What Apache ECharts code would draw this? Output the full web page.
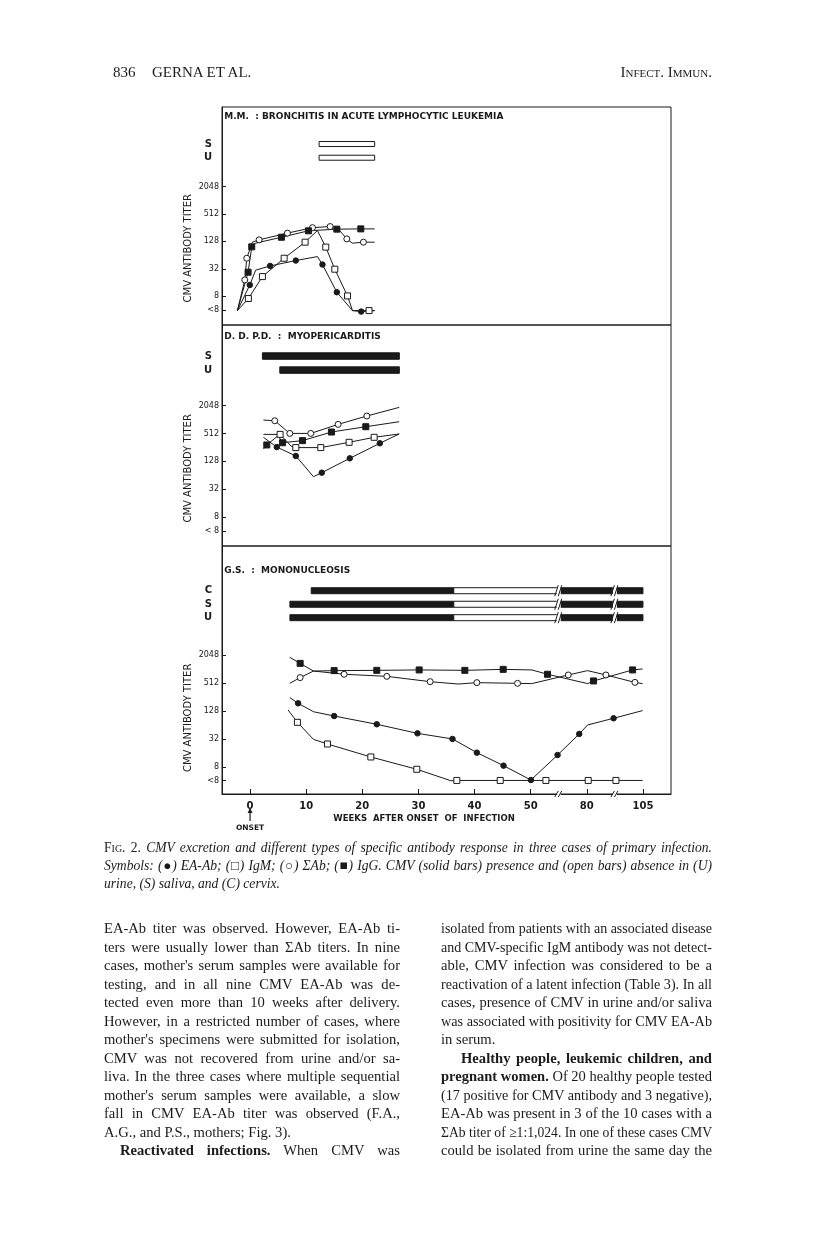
<!DOCTYPE html>
<html><head><meta charset="utf-8">
<script src="https://cdn.jsdelivr.net/npm/echarts@6/dist/echarts.min.js"></script>
<style>
html,body{margin:0;padding:0;background:#fff;}
#chart{position:absolute;left:0;top:0;width:816px;height:1253px;}
.t{position:absolute;font-family:"Liberation Serif","DejaVu Serif",serif;color:#1b1b1b;white-space:nowrap;line-height:18px;transform-origin:0 50%;}
.sc{font-variant:small-caps;}
</style></head><body>
<div id="chart"></div>
<div id="txt"></div>
<script>
// ---------- axis ticks ----------
const yTickValues = [2, 3, 5, 7, 9, 11];           // log2 titre positions
const yTickLabels = ['<8', '8', '32', '128', '512', '2048'];
const yTickLabels2 = ['< 8', '8', '32', '128', '512', '2048'];
const xTickValues = [0, 10, 20, 30, 40, 50, 60, 70]; // axis positions (broken axis)
const xTickLabels = ['0', '10', '20', '30', '40', '50', '80', '105'];
const axisBreaks = [55, 65];

// ---------- panel 1: M.M. ----------  [x, log2 titre, marker?]
const mmSumAb = [[-2.25,1.95,0],[-0.94,4.19,1],[-0.59,5.77,1],[0.42,6.95,0],[1.61,7.11,1],[6.66,7.6,1],[11.12,8.0,1],[14.27,8.08,1],[15.5,8.0,0],[17.24,7.18,1],[18.25,6.87,0],[20.2,6.94,1],[22.2,6.94,0]];
const mmIgG   = [[-2.25,1.95,0],[-0.35,4.75,1],[0.3,6.6,1],[0.8,6.85,0],[5.59,7.3,1],[10.4,7.77,1],[15.46,7.89,1],[19.73,7.91,1],[22.2,7.91,0]];
const mmIgM   = [[-2.25,1.95,0],[-0.3,2.83,1],[2.2,4.43,1],[6.07,5.77,1],[9.81,6.94,1],[12.0,7.79,0],[13.49,6.58,1],[15.1,4.97,1],[17.36,3.02,1],[18.25,1.95,0],[21.2,1.95,1],[22.2,1.95,0]];
const mmEA    = [[-2.25,1.95,0],[-0.05,3.82,1],[1.0,4.9,0],[3.57,5.21,1],[8.15,5.6,1],[12.0,5.89,0],[12.9,5.31,1],[15.46,3.29,1],[18.25,1.95,0],[19.8,1.88,1],[22.2,1.95,0]];
const mmRows  = [['S',14.1],['U',13.1]];
const mmBars  = [[12.3,22.2,14.1,0],[12.3,22.2,13.1,0]];   // [start, end, row, solid]

// ---------- panel 2: D.D.P.D. ----------
const ddSumAb = [[2.38,9.97,0],[4.4,9.92,1],[7.08,9.01,1],[10.82,9.01,1],[15.69,9.66,1],[20.8,10.26,1],[26.57,10.88,0]];
const ddIgM   = [[2.38,8.94,0],[5.35,8.94,1],[7.3,8.1,0],[8.15,7.99,1],[12.6,7.99,1],[17.65,8.37,1],[22.11,8.73,1],[26.57,8.97,0]];
const ddIgG   = [[2.38,7.9,0],[2.98,8.18,1],[5.0,8.85,0],[5.77,8.34,1],[9.34,8.49,1],[14.5,9.11,1],[20.62,9.49,1],[26.57,9.85,0]];
const ddEA    = [[2.38,8.73,0],[4.76,8.03,1],[8.15,7.39,1],[11.3,5.9,0],[12.78,6.19,1],[17.77,7.22,1],[23.12,8.3,1],[26.57,8.97,0]];
const ddRows  = [['S',14.57],['U',13.56]];
const ddBars  = [[2.2,26.6,14.57,1],[5.3,26.6,13.56,1]];

// ---------- panel 3: G.S. ----------
const gsIgG   = [[7.08,10.83,0],[8.92,10.4,1],[11.3,9.85,0],[14.98,9.88,1],[22.58,9.9,1],[30.13,9.93,1],[38.27,9.9,1],[45.1,9.97,1],[50.2,9.93,0],[53.0,9.62,1],[60.14,8.95,0],[61.2,9.14,1],[68.16,9.93,1],[69.94,10.0,0]];
const gsSumAb = [[7.08,8.97,0],[8.92,9.38,1],[11.3,9.85,0],[16.76,9.62,1],[24.37,9.47,1],[32.09,9.09,1],[37.08,8.92,0],[40.41,9.02,1],[47.66,8.97,1],[50.2,8.95,0],[56.69,9.57,1],[60.14,9.88,0],[63.4,9.57,1],[68.57,9.04,1],[69.94,8.95,0]];
const gsEA    = [[7.08,7.95,0],[8.56,7.54,1],[11.3,6.94,0],[14.98,6.63,1],[22.58,6.04,1],[29.83,5.39,1],[36.07,4.99,1],[40.41,4.01,1],[45.16,3.08,1],[50.04,2.05,1],[54.79,3.84,1],[58.65,5.35,1],[60.14,5.99,0],[64.77,6.47,1],[69.94,7.02,0]];
const gsIgM   = [[6.78,7.06,0],[8.44,6.18,1],[11.3,4.96,0],[13.79,4.63,1],[21.52,3.7,1],[29.71,2.82,1],[35.78,2.0,0],[36.84,2.02,1],[44.57,2.02,1],[52.71,2.02,1],[60.25,2.02,1],[65.19,2.02,1],[69.94,2.02,0]];
const gsRows  = [['C',15.6],['S',14.63],['U',13.67]];
const gsBars  = [[10.9,36.3,15.6,1],[36.3,55,15.6,0],[55,70,15.6,1],
                 [7.1,36.3,14.63,1],[36.3,55,14.63,0],[55,70,14.63,1],
                 [7.1,36.3,13.67,1],[36.3,55,13.67,0],[55,70,13.67,1]];

const titles = ['M.M.  : BRONCHITIS IN ACUTE LYMPHOCYTIC LEUKEMIA', 'D. D. P.D.  :  MYOPERICARDITIS', 'G.S.  :  MONONUCLEOSIS'];

// ---------- page text ----------
const header = ['836', 'GERNA ET AL.', 'Infect. Immun.'];
const caption = [
  '<span class="sc" style="font-style:normal">Fig.</span> <span style="font-style:normal">2.</span> CMV excretion and different types of specific antibody response in three cases of primary infection.',
  'Symbols: (<span style="font-style:normal">●</span>) EA-Ab; (<span style="font-style:normal">□</span>) IgM; (<span style="font-style:normal">○</span>) ΣAb; (<span style="font-style:normal">■</span>) IgG. CMV (solid bars) presence and (open bars) absence in (U)',
  'urine, (S) saliva, and (C) cervix.'
];
const leftCol = [
  ['EA-Ab titer was observed. However, EA-Ab ti-',1,0],
  ['ters were usually lower than ΣAb titers. In nine',1,0],
  ['cases, mother\'s serum samples were available for',1,0],
  ['testing, and in all nine CMV EA-Ab was de-',1,0],
  ['tected even more than 10 weeks after delivery.',1,0],
  ['However, in a restricted number of cases, where',1,0],
  ['mother\'s specimens were submitted for isolation,',1,0],
  ['CMV was not recovered from urine and/or sa-',1,0],
  ['liva. In the three cases where multiple sequential',1,0],
  ['mother\'s serum samples were available, a slow',1,0],
  ['fall in CMV EA-Ab titer was observed (F.A.,',1,0],
  ['A.G., and P.S., mothers; Fig. 3).',0,0],
  ['<b>Reactivated infections.</b> When CMV was',1,1]
];
const rightCol = [
  ['isolated from patients with an associated disease',1,0],
  ['and CMV-specific IgM antibody was not detect-',1,0],
  ['able, CMV infection was considered to be a',1,0],
  ['reactivation of a latent infection (Table 3). In all',1,0],
  ['cases, presence of CMV in urine and/or saliva',1,0],
  ['was associated with positivity for CMV EA-Ab',1,0],
  ['in serum.',0,0],
  ['<b>Healthy people, leukemic children, and</b>',1,1],
  ['<b>pregnant women.</b> Of 20 healthy people tested',1,0],
  ['(17 positive for CMV antibody and 3 negative),',1,0],
  ['EA-Ab was present in 3 of the 10 cases with a',1,0],
  ['ΣAb titer of ≥1:1,024. In one of these cases CMV',1,0],
  ['could be isolated from urine the same day the',1,0]
];

// build page text (justified lines are squeezed horizontally if too long)
(function(){
  const box = document.getElementById('txt');
  function add(html, left, cy, width, size, justify, extra){
    const d = document.createElement('div');
    d.className = 't';
    d.style.left = left + 'px';
    d.style.top = (cy - 9) + 'px';
    d.style.fontSize = size + 'px';
    if (extra) d.style.cssText += extra;
    d.innerHTML = '<span>' + html + '</span>';
    box.appendChild(d);
    if (justify){
      const nat = d.firstChild.getBoundingClientRect().width;
      if (nat > width){
        d.style.width = nat + 'px';
        d.style.transform = 'scaleX(' + (width / nat) + ')';
      } else {
        d.style.width = width + 'px';
      }
      d.style.textAlign = 'justify';
      d.style.textAlignLast = 'justify';
    }
  }
  add(header[0], 113, 72, 0, 15);
  add(header[1], 152, 72, 0, 15);
  add(header[2], 560, 72, 0, 15, false, 'width:152px;text-align:right;font-variant:small-caps;');
  caption.forEach((l,i)=> add(l, 104, 848 + i*18, 608, 13.6, i<2, 'font-style:italic;'));
  leftCol.forEach((l,i)=> add(l[0], 104 + (l[2]?16:0), 928 + i*18.5, 296 - (l[2]?16:0), 14.6, !!l[1]));
  rightCol.forEach((l,i)=> add(l[0], 441 + (l[2]?20:0), 928 + i*18.5, 271 - (l[2]?20:0), 14.6, !!l[1]));
})();

// ---------- chart ----------
const INK = '#1a1a1a';
const chart = echarts.init(document.getElementById('chart'), null, {renderer:'canvas'});
const gridDefs = [
  {top:107, height:218, ymin:0.9,  ymax:16.8, rows:mmRows, bars:mmBars, barH:5, lbl:yTickLabels},
  {top:325, height:221, ymin:0.92, ymax:16.8, rows:ddRows, bars:ddBars, barH:6.5, lbl:yTickLabels2},
  {top:546, height:248, ymin:1.05, ymax:18.8, rows:gsRows, bars:gsBars, barH:6, lbl:yTickLabels}
];
const SYM = {
  sum: {symbol:'circle', size:6, fill:'#fff'},
  igm: {symbol:'rect',   size:6, fill:'#fff'},
  ea:  {symbol:'circle', size:5.5, fill:INK},
  igg: {symbol:'rect',   size:6, fill:INK}
};
function lineSeries(data, kind, gi){
  const s = SYM[kind];
  return {
    type:'line', xAxisIndex:gi, yAxisIndex:gi, animation:false, z:3,
    data: data.map(p => ({value:[p[0], p[1]], symbol: p[2] ? s.symbol : 'none'})),
    symbolSize: s.size, showSymbol:true,
    itemStyle:{color:s.fill, borderColor:INK, borderWidth:1},
    lineStyle:{color:INK, width:1},
    emphasis:{disabled:true}
  };
}
function barSeries(gi){
  const g = gridDefs[gi];
  return {
    type:'custom', xAxisIndex:gi, yAxisIndex:gi, animation:false, z:2,
    data: g.bars,
    encode:{x:[0,1], y:2},
    renderItem:function(params, api){
      const a = api.coord([api.value(0), api.value(2)]);
      const b = api.coord([api.value(1), api.value(2)]);
      return {type:'rect', shape:{x:a[0], y:a[1]-g.barH/2, width:b[0]-a[0], height:g.barH},
              style:{fill: api.value(3) ? INK : '#fff', stroke:INK, lineWidth:1}};
    }
  };
}
// break marks (bars of panel 3 and its x axis)
const breakData = [];
axisBreaks.forEach(b => { gsRows.forEach(r => breakData.push([b, r[1], 0])); breakData.push([b, gridDefs[2].ymin, 1]); });
const breakSeries = {
  type:'custom', xAxisIndex:2, yAxisIndex:2, animation:false, z:5, silent:true,
  data: breakData, encode:{x:0, y:1},
  renderItem:function(params, api){
    const p = api.coord([api.value(0), api.value(1)]);
    const onAxis = api.value(2) === 1;
    const hh = onAxis ? 3 : 5.5;
    return {type:'group', children:[
      {type:'rect', shape:{x:p[0]-2, y:p[1]-hh, width:4, height:hh*2}, style:{fill:'#fff'}},
      {type:'line', shape:{x1:p[0]-4, y1:p[1]+hh, x2:p[0]-0.5, y2:p[1]-hh}, style:{stroke:INK, lineWidth:1}},
      {type:'line', shape:{x1:p[0]-0.5, y1:p[1]+hh, x2:p[0]+3, y2:p[1]-hh}, style:{stroke:INK, lineWidth:1}}
    ]};
  }
};

const grids = gridDefs.map(g => ({left:222, right:145, top:g.top, height:g.height, show:true, borderColor:INK, borderWidth:1, backgroundColor:'transparent'}));
const xAxes = gridDefs.map((g, i) => ({
  type:'value', gridIndex:i, min:-5, max:75, show: i === 2, position:'bottom',
  axisLine:{show:true, onZero:false, lineStyle:{color:INK, width:1}},
  axisTick:{show:true, inside:true, length:5, customValues:xTickValues, lineStyle:{color:INK}},
  axisLabel:{show:true, customValues:xTickValues, margin:7, color:INK, fontSize:10, fontWeight:'bold',
    fontFamily:'DejaVu Sans', formatter: v => xTickLabels[xTickValues.indexOf(v)]},
  splitLine:{show:false}
}));
const yAxes = gridDefs.map((g, i) => {
  const vals = yTickValues.concat(g.rows.map(r => r[1]));
  return {
    type:'value', gridIndex:i, min:g.ymin, max:g.ymax, position:'left',
    axisLine:{show:true, onZero:false, lineStyle:{color:INK, width:1}},
    axisTick:{show:true, inside:true, length:4, customValues:yTickValues, lineStyle:{color:INK}},
    axisLabel:{show:true, customValues:vals, margin:3, color:INK, fontSize:8, fontFamily:'DejaVu Sans',
      formatter: v => {
        const k = yTickValues.indexOf(v);
        if (k >= 0) return g.lbl[k];
        const r = g.rows.find(rr => rr[1] === v);
        return r ? '{r|' + r[0] + '}' : '';
      },
      rich:{r:{fontSize:10, fontWeight:'bold', fontFamily:'DejaVu Sans', color:INK, padding:[0,7,0,0]}}},
    splitLine:{show:false}
  };
});

const series = [
  barSeries(0), barSeries(1), barSeries(2),
  lineSeries(mmSumAb,'sum',0), lineSeries(mmIgG,'igg',0), lineSeries(mmIgM,'igm',0), lineSeries(mmEA,'ea',0),
  lineSeries(ddSumAb,'sum',1), lineSeries(ddIgG,'igg',1), lineSeries(ddIgM,'igm',1), lineSeries(ddEA,'ea',1),
  lineSeries(gsIgG,'igg',2), lineSeries(gsSumAb,'sum',2), lineSeries(gsEA,'ea',2), lineSeries(gsIgM,'igm',2),
  breakSeries
];

chart.setOption({animation:false, backgroundColor:'#fff', grid:grids, xAxis:xAxes, yAxis:yAxes, series:series});

// titles / axis names as graphic text, placed from axis coordinates
const gfx = [];
const titleY = [117, 337, 571];
titles.forEach((t, i) => {
  const px = chart.convertToPixel({xAxisIndex:i, yAxisIndex:i}, [-4.6, 0]);
  gfx.push({type:'text', x:px[0], y:titleY[i], style:{text:t, fill:INK, font:'bold 9px "DejaVu Sans"', textVerticalAlign:'middle'}});
  const c = chart.convertToPixel({xAxisIndex:i, yAxisIndex:i}, [-5, 6.5]);
  gfx.push({type:'text', x:188, y:c[1], rotation:Math.PI/2,
    style:{text:'CMV ANTIBODY TITER', fill:INK, font:'10px "DejaVu Sans"', textAlign:'center', textVerticalAlign:'middle'}});
});
const o = chart.convertToPixel({xAxisIndex:2, yAxisIndex:2}, [0, gridDefs[2].ymin]);
const mid = chart.convertToPixel({xAxisIndex:2, yAxisIndex:2}, [31, gridDefs[2].ymin]);
gfx.push({type:'text', x:mid[0], y:o[1]+25, style:{text:'WEEKS  AFTER ONSET  OF  INFECTION', fill:INK, font:'bold 8.5px "DejaVu Sans"', textAlign:'center', textVerticalAlign:'middle'}});
gfx.push({type:'line', shape:{x1:o[0], y1:o[1]+15, x2:o[0], y2:o[1]+27}, style:{stroke:INK, lineWidth:1.2}});
gfx.push({type:'polygon', shape:{points:[[o[0]-2.5,o[1]+19],[o[0]+2.5,o[1]+19],[o[0],o[1]+14]]}, style:{fill:INK}});
gfx.push({type:'text', x:o[0], y:o[1]+34, style:{text:'ONSET', fill:INK, font:'bold 7.5px "DejaVu Sans"', textAlign:'center', textVerticalAlign:'middle'}});
chart.setOption({graphic:gfx});
</script>
</body></html>
